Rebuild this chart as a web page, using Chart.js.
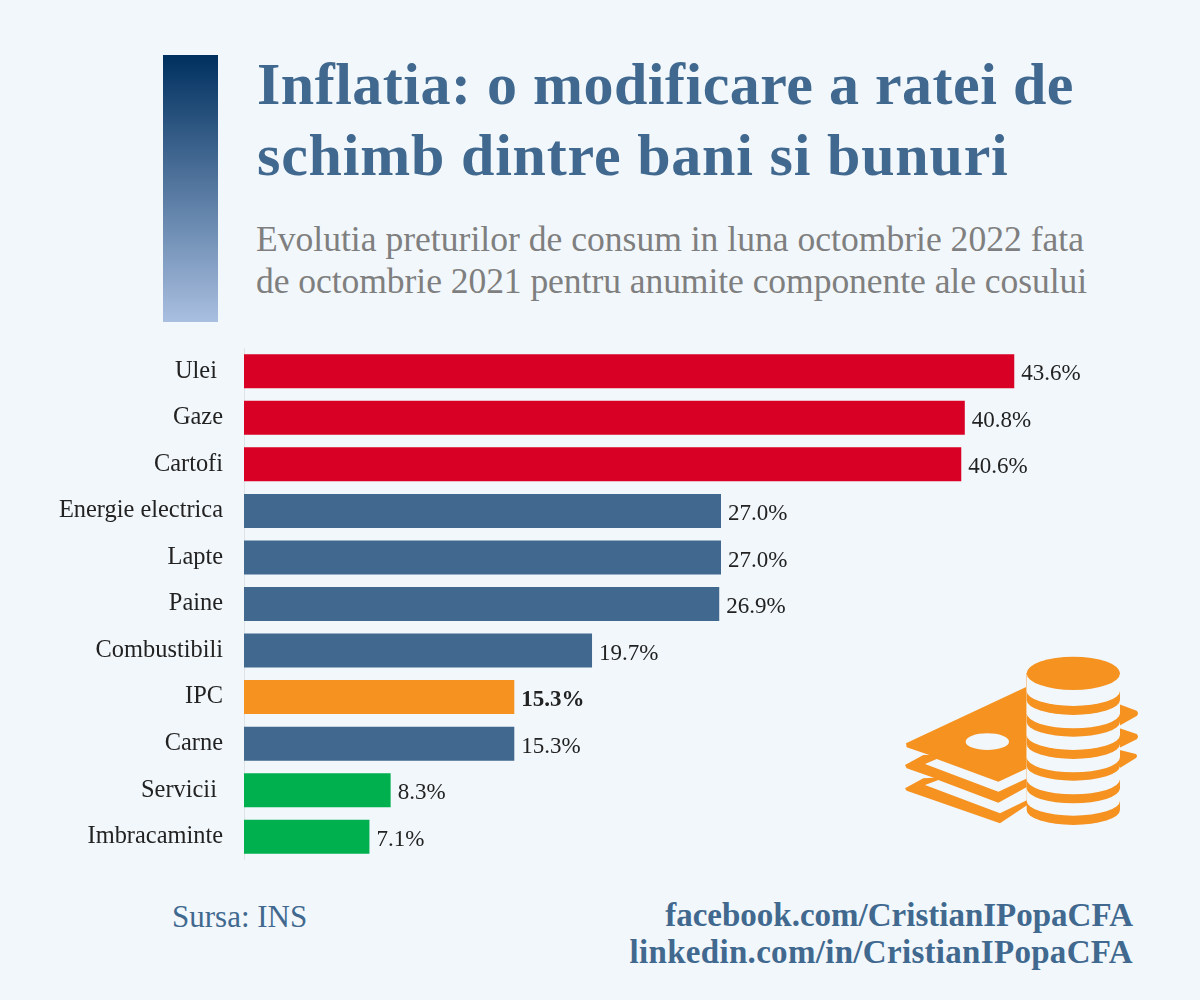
<!DOCTYPE html>
<html><head><meta charset="utf-8">
<style>
html,body{margin:0;padding:0;background:#f2f7fb;}
#wrap{position:relative;width:1200px;height:1000px;background:#f2f7fb;overflow:hidden;font-family:"Liberation Serif",serif;}
.t{position:absolute;white-space:nowrap;}
#bar{position:absolute;left:163px;top:55px;width:55px;height:267px;background:linear-gradient(#00305f,#a9bfe0);}
#c{position:absolute;left:0;top:340px;}
</style></head><body>
<div id="wrap">
<div id="bar"></div>
<div class="t" style="left:257px;top:49px;font:bold 60px 'Liberation Serif',serif;letter-spacing:.5px;color:#41698f;line-height:71px">Inflatia: o modificare a ratei de<br><span style="letter-spacing:.8px">schimb dintre bani si bunuri</span></div>
<div class="t" style="left:256px;top:218px;font:35.6px 'Liberation Serif',serif;color:#7f7f7f;line-height:42px">Evolutia preturilor de consum in luna octombrie 2022 fata<br><span style="letter-spacing:-.07px">de octombrie 2021 pentru anumite componente ale cosului</span></div>
<div class="t" style="left:172px;top:899px;font:31px 'Liberation Serif',serif;color:#41698f">Sursa: INS</div>
<div class="t" style="right:67px;top:897px;text-align:right;font:bold 33px 'Liberation Serif',serif;color:#41698f;line-height:37px">facebook.com/CristianIPopaCFA<br><span style="letter-spacing:.31px">linkedin.com/in/CristianIPopaCFA</span></div>
<canvas id="c" width="1200" height="520"></canvas>
<svg style="position:absolute;left:890px;top:640px" width="260" height="200" viewBox="0 0 780 600">
<g fill="#f59220" stroke-linejoin="round">
<path d="M680 190 L740 212 Q748 220 740 228 L680 262 L740 282 Q748 290 740 298 L680 328 L738 342 Q744 348 738 354 L680 390 Z"/>
<path d="M45 445 L100 415 L420 400 L420 490 L330 550 L50 452 Z"/>
<path d="M105 435 L145 420 L325 488 L412 440 L412 480 L330 520 Z" fill="#f2f7fb"/>
<path d="M45 375 L100 345 L420 340 L420 425 L330 483 L50 385 Z"/>
<path d="M105 372 L140 357 L325 425 L412 385 L412 415 L325 455 Z" fill="#f2f7fb"/>
<path d="M48 310 L410 140 L420 140 L420 375 L330 418 L50 322 Z"/>
<ellipse cx="292" cy="305" rx="65" ry="25" fill="#f2f7fb"/>
<path d="M410 100 V510 A140 45 0 0 0 690 510 V100 Z"/>
<path d="M410 100 V482 A140 45 0 0 0 690 482 V100 Z" fill="#f2f7fb"/>
<path d="M410 100 V445 A140 45 0 0 0 690 445 V100 Z"/>
<path d="M410 100 V418 A140 45 0 0 0 690 418 V100 Z" fill="#f2f7fb"/>
<path d="M410 100 V377 A140 45 0 0 0 690 377 V100 Z"/>
<path d="M410 100 V352 A140 45 0 0 0 690 352 V100 Z" fill="#f2f7fb"/>
<path d="M410 100 V312 A140 45 0 0 0 690 312 V100 Z"/>
<path d="M410 100 V285 A140 45 0 0 0 690 285 V100 Z" fill="#f2f7fb"/>
<path d="M410 100 V245 A140 45 0 0 0 690 245 V100 Z"/>
<path d="M410 100 V220 A140 45 0 0 0 690 220 V100 Z" fill="#f2f7fb"/>
<path d="M410 100 V180 A140 45 0 0 0 690 180 V100 Z"/>
<path d="M410 100 V153 A140 45 0 0 0 690 153 V100 Z" fill="#f2f7fb"/>
<ellipse cx="550" cy="100" rx="140" ry="50"/>
</g></svg>
</div>
<script src="https://cdn.jsdelivr.net/npm/chart.js@4"></script>
<script>
const categories=["Ulei ","Gaze","Cartofi","Energie electrica","Lapte","Paine","Combustibili","IPC","Carne","Servicii ","Imbracaminte"];
const values=[43.6,40.8,40.6,27.0,27.0,26.9,19.7,15.3,15.3,8.3,7.1];
const barColors=["#d90026","#d90026","#d90026","#41698f","#41698f","#41698f","#41698f","#f59220","#41698f","#00b04f","#00b04f"];
const labelPlugin={id:'vals',afterDatasetsDraw(ch){const x=ch.ctx,m=ch.getDatasetMeta(0);x.save();x.fillStyle='#222';x.textBaseline='middle';
m.data.forEach((b,i)=>{x.font=(categories[i]==='IPC'?'bold ':'')+'23px "Liberation Serif",serif';x.fillText(values[i].toFixed(1)+'%',b.x+7,b.y+3);});x.restore();}};
new Chart(document.getElementById('c'),{type:'bar',data:{labels:categories,datasets:[{data:values,backgroundColor:barColors,barPercentage:0.73,categoryPercentage:1}]},
plugins:[labelPlugin],
options:{indexAxis:'y',responsive:false,animation:false,layout:{padding:{top:8,bottom:0,left:0,right:2}},
plugins:{legend:{display:false},tooltip:{enabled:false}},
scales:{x:{min:0,max:54,display:false},y:{afterFit(s){s.width=244;s.paddingTop=0;s.paddingBottom=0;},grid:{display:false,drawTicks:false},border:{color:'#dfe3e6'},ticks:{color:'#222',padding:21,font:{family:'"Liberation Serif",serif',size:24.4}}}}}});
</script>
</body></html>
